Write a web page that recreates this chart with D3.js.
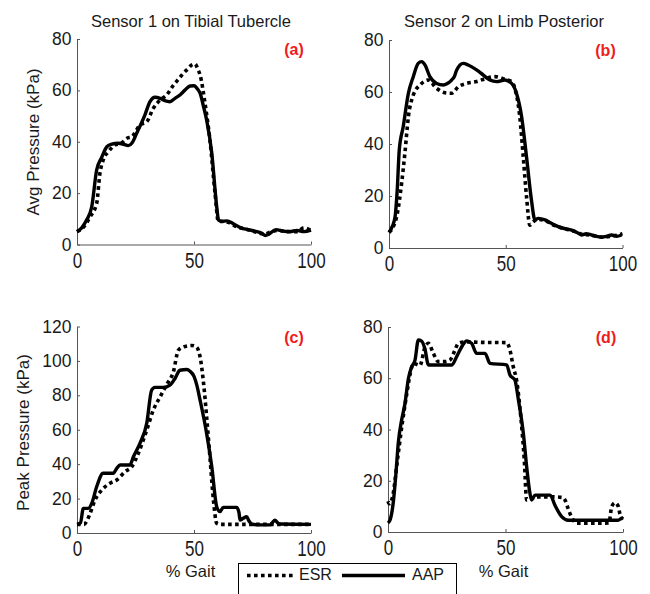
<!DOCTYPE html>
<html>
<head>
<meta charset="utf-8">
<script src="https://cdn.jsdelivr.net/npm/d3@7"></script>
<style>
  html, body { margin: 0; padding: 0; background: #fff; }
  svg { display: block; }
  text { font-family: "Liberation Sans", Arial, Helvetica, sans-serif; fill: #1a1a1a; }
</style>
</head>
<body>
<svg id="chart" width="650" height="594"></svg>
<script>
// ---------------- DATA ----------------
const titles = ["Sensor 1 on Tibial Tubercle", "Sensor 2 on Limb Posterior"];
const yLabels = ["Avg Pressure (kPa)", "Peak Pressure (kPa)"];
const xLabel = "% Gait";
const panelTags = ["(a)", "(b)", "(c)", "(d)"];
const seriesNames = ["ESR", "AAP"];
const xTicks = [0, 50, 100];
const yTicksAvg = [0, 20, 40, 60, 80];
const yTicksPeak = [0, 20, 40, 60, 80, 100, 120];

// Panel (a) Avg pressure, sensor 1
const aAapGait = [0, 2, 4.1, 6.3, 8.4, 10.6, 12.7, 14.5, 17.7, 20, 21.9, 23.5, 25.5, 29, 31.2, 33.3, 35.5, 37.5, 39.7, 42, 44, 46, 48.3, 50, 51.5, 52.6, 54, 55.4, 57.6, 59.7, 60.5, 62, 64, 67, 70, 73, 76, 79, 80.5, 82, 85, 88, 91, 94, 97, 100];
const aAap = [5, 6.5, 9.5, 14.7, 29, 34, 38, 39, 39.4, 39, 38.5, 39.5, 43.3, 50.4, 55.6, 57.3, 56.9, 56, 55.6, 57, 58.2, 60, 61.7, 61.8, 60.5, 58.9, 54, 48.5, 35.5, 14.7, 9.5, 9, 9.2, 8, 6.5, 5.8, 5.2, 4.4, 3.5, 4, 5.8, 5.2, 5, 5.5, 5, 5.6];
const aEsrGait = [0, 3, 5.6, 8.4, 9.8, 11.2, 13.4, 16.2, 19, 21.2, 23.5, 26.9, 29.8, 32.6, 35.5, 38.3, 41.2, 43.5, 45.4, 47.5, 49, 50.4, 51.8, 52.6, 54.7, 56.8, 59, 60.4, 62, 65, 68, 72, 76, 80, 83, 86, 90, 94, 97, 100];
const aEsr = [5, 7, 10.8, 16, 27.7, 32.9, 36.1, 38.7, 39.5, 41.3, 42, 46.5, 47.8, 53, 56.2, 58.2, 62, 64.5, 66.6, 68.5, 69.9, 70.3, 67.9, 66, 55, 40.7, 19.9, 8.9, 9, 8.5, 7, 6, 5, 4, 5, 5.5, 5, 5, 6.5, 5.5];

// Panel (b) Avg pressure, sensor 2
const bAapGait = [0, 1.5, 2.6, 3.5, 4.4, 6.1, 8.3, 10.4, 12.5, 14, 15.4, 17.5, 20.4, 23.2, 25, 26.8, 28, 29, 31.8, 33.9, 37.5, 40.4, 43.2, 46.1, 49.6, 52.5, 54.6, 56.8, 58.9, 61, 62.5, 63.9, 66.8, 69.5, 72.5, 75, 78.2, 80.5, 82.4, 84.5, 86.7, 89, 91, 93, 95.3, 97.5, 99.6];
const bAap = [6, 8.5, 12, 22, 37.7, 46.7, 59.5, 65.9, 71, 71.7, 70.4, 65.9, 63.3, 62.7, 63.3, 64.6, 66, 68.5, 71, 70.4, 68.5, 66.5, 64.6, 64, 64.6, 63.3, 59.5, 50.5, 35, 18.5, 10.8, 11.4, 10.8, 9.5, 8.2, 7.5, 6.9, 6, 5, 5.5, 5, 4.5, 4.1, 4.5, 5, 4.5, 5];
const bEsrGait = [0, 2, 3.5, 5.4, 6.8, 8.3, 10.4, 13.3, 16.8, 20.4, 24, 26.8, 29.7, 33.2, 37.5, 41.8, 45.4, 49.6, 52.5, 53.9, 56, 57.5, 58.9, 60.3, 61.7, 63.5, 67, 70, 73, 77, 80, 83, 86, 89, 92, 95, 98, 100];
const bEsr = [6, 8.5, 13, 24.9, 36.4, 50.5, 58.8, 62.7, 64.6, 61.4, 59.7, 59.5, 62, 63.3, 64, 65.3, 65.9, 64.9, 64, 61.4, 50.5, 35, 19.7, 8.8, 10, 11, 10.5, 9, 8, 7, 6.2, 5.2, 5, 4.5, 4.2, 4.5, 5, 5.5];

// Panel (c) Peak pressure, sensor 1
const cAapGait = [0, 1.5, 2.7, 4.8, 6.3, 8.4, 11.2, 15.5, 17, 18.4, 22.6, 24.1, 26.9, 29.8, 31.9, 33.3, 36.9, 39.7, 41.9, 44, 46.9, 48.3, 50, 51.2, 52.6, 55.4, 57.6, 59.7, 61.1, 62.5, 68.2, 69.2, 69.7, 71, 72.5, 73.5, 74.7, 78.2, 82.4, 83.5, 84.6, 85.7, 86.8, 100];
const cAap = [5, 6, 14.3, 14.3, 17.2, 26.9, 34.7, 34.7, 37.6, 39.5, 39.5, 44.3, 52.1, 63.7, 83, 84.6, 84.6, 85.9, 89.8, 94.6, 95, 94, 91, 85.9, 77.2, 57.9, 38.5, 15.3, 12.4, 14.9, 14.9, 12, 7.5, 8.5, 9.5, 7, 5.2, 4.7, 4.7, 6, 7.5, 6, 5.2, 5];
const cEsrGait = [0, 3, 4.2, 5.6, 7.7, 10.6, 14.1, 17, 20.5, 23.4, 26.2, 29.8, 32.6, 35.5, 38.3, 41.2, 43.3, 45.4, 49, 51.1, 52.6, 54.1, 55.4, 56.8, 58.3, 59.7, 61, 100];
const cEsr = [5, 5, 7, 11.4, 19.2, 25, 28.9, 30.8, 35.6, 38.5, 46.3, 59.8, 71.4, 79.1, 86.2, 93.7, 106.2, 108.1, 109, 108, 102.4, 86.9, 67.5, 44.3, 19.2, 5.6, 5, 5];

// Panel (d) Peak pressure, sensor 2
const dAapGait = [0, 1, 2.3, 3.3, 4.4, 5.8, 7.2, 8.7, 10.1, 11.5, 12.9, 14.3, 15.7, 17.2, 27.2, 29.2, 31.4, 33.5, 35.6, 37.7, 41.3, 43.4, 50.5, 51.9, 54, 55.5, 57.6, 59, 60.4, 61.1, 62.6, 69, 71, 73.9, 76.7, 97.9, 99.3, 100];
const dAap = [3.5, 5, 12, 22, 35, 43.7, 50, 60, 64.5, 67.1, 74.9, 74.5, 71.5, 65.2, 65.2, 68.4, 72.3, 74.6, 73.6, 69.7, 69.7, 65.8, 65.2, 61.3, 59.3, 51.5, 38.5, 25.5, 15.1, 12.5, 14.4, 14.4, 10.5, 6, 4.6, 4.6, 5.3, 5.5];
const dEsrGait = [0, 0.5, 2, 4, 6, 8, 9.5, 10.8, 13.6, 15.7, 17.2, 19.3, 21.4, 24.3, 26.4, 28.5, 29.9, 32.8, 40, 50.5, 51.9, 53.3, 54.7, 56.5, 58, 59, 61.1, 63.3, 70, 74, 75.3, 76.5, 78, 80.3, 90, 94, 95.2, 96.6, 98, 98.7, 100];
const dEsr = [12, 11, 14, 28, 42, 54, 62, 65.8, 65, 72, 73.6, 69.7, 66.5, 66.5, 67.1, 71, 73.6, 74.2, 74, 73.9, 71, 64.5, 59.3, 45, 28, 12.5, 13, 13.7, 13.7, 13.5, 12.5, 9.5, 6, 3.4, 3.4, 3.5, 9.9, 11.4, 10, 7, 5];

// ---------------- LAYOUT ----------------
const panels = [
  { tag: panelTags[0], xr: [77, 311], yr: [244.5, 39], yTicks: yTicksAvg,
    esr: [aEsrGait, aEsr], aap: [aAapGait, aAap] },
  { tag: panelTags[1], xr: [389, 622.5], yr: [248, 40], yTicks: yTicksAvg,
    esr: [bEsrGait, bEsr], aap: [bAapGait, bAap] },
  { tag: panelTags[2], xr: [77, 311], yr: [533, 326.5], yTicks: yTicksPeak,
    esr: [cEsrGait, cEsr], aap: [cAapGait, cAap] },
  { tag: panelTags[3], xr: [388, 623], yr: [532, 327], yTicks: yTicksPeak.slice(0, 5),
    esr: [dEsrGait, dEsr], aap: [dAapGait, dAap] }
];

const svg = d3.select("#chart");
svg.append("rect").attr("width", 650).attr("height", 594).attr("fill", "#fff");

const axisColor = "#555";
const DASH = "3.6,3.4";

panels.forEach((p, i) => {
  const x = d3.scaleLinear().domain([0, 100]).range(p.xr);
  const yMax = p.yTicks[p.yTicks.length - 1];
  const y = d3.scaleLinear().domain([0, yMax]).range(p.yr);

  // x axis
  const gx = svg.append("g")
    .attr("transform", `translate(0,${p.yr[0]})`)
    .call(d3.axisBottom(x).tickValues(xTicks).tickFormat(d3.format("d"))
      .tickSizeInner(-3).tickSizeOuter(0).tickPadding(6));
  gx.select(".domain").attr("stroke", axisColor).attr("stroke-width", 1);
  gx.selectAll(".tick line").attr("stroke", axisColor);
  gx.selectAll(".tick text")
    .attr("y", 6.7).attr("dy", "0.71em")
    .attr("transform", "scale(1,1.25)")
    .style("font-size", "17px").attr("fill", "#1a1a1a")
    .style("font-family", '"Liberation Sans", Arial, sans-serif');

  // y axis
  const gy = svg.append("g")
    .attr("transform", `translate(${p.xr[0]},0)`)
    .call(d3.axisLeft(y).tickValues(p.yTicks).tickFormat(d3.format("d"))
      .tickSizeInner(-3).tickSizeOuter(0).tickPadding(5.5));
  gy.select(".domain").attr("stroke", axisColor).attr("stroke-width", 1);
  gy.selectAll(".tick line").attr("stroke", axisColor);
  gy.selectAll(".tick text")
    .style("font-size", "17.5px").attr("fill", "#1a1a1a")
    .style("font-family", '"Liberation Sans", Arial, sans-serif');

  const line = d3.line()
    .x(d => x(d[0])).y(d => y(d[1]))
    .curve(d3.curveMonotoneX);
  const toPts = s => s[0].map((g, k) => [g, s[1][k]]);

  // ESR dotted
  svg.append("path")
    .attr("d", line(toPts(p.esr)))
    .attr("fill", "none").attr("stroke", "#000")
    .attr("stroke-width", 3.6).attr("stroke-dasharray", DASH);
  // AAP solid
  svg.append("path")
    .attr("d", line(toPts(p.aap)))
    .attr("fill", "none").attr("stroke", "#000")
    .attr("stroke-width", 3.4).attr("stroke-linejoin", "round");

  // panel tag
  svg.append("text")
    .attr("x", p.xr[1] - 17).attr("y", p.yr[1] + 16)
    .attr("text-anchor", "middle")
    .style("font-size", "16px").style("font-weight", "bold")
    .style("fill", "#ee1c1c")
    .text(p.tag);
});

// titles
svg.append("text").attr("x", 191).attr("y", 26.5).attr("text-anchor", "middle")
  .style("font-size", "16.5px").text(titles[0]);
svg.append("text").attr("x", 504).attr("y", 26.5).attr("text-anchor", "middle")
  .style("font-size", "16.5px").text(titles[1]);

// y labels
svg.append("text").attr("transform", "translate(39,142) rotate(-90)")
  .attr("text-anchor", "middle").style("font-size", "17px").text(yLabels[0]);
svg.append("text").attr("transform", "translate(29,432.5) rotate(-90)")
  .attr("text-anchor", "middle").style("font-size", "17px").text(yLabels[1]);

// x labels
svg.append("text").attr("x", 190.5).attr("y", 576.5).attr("text-anchor", "middle")
  .style("font-size", "16.5px").text(xLabel);
svg.append("text").attr("x", 503.5).attr("y", 576.5).attr("text-anchor", "middle")
  .style("font-size", "16.5px").text(xLabel);

// legend
const lg = svg.append("g");
lg.append("rect").attr("x", 238.5).attr("y", 563.5).attr("width", 218).attr("height", 40)
  .attr("fill", "#fff").attr("stroke", "#000").attr("stroke-width", 1);
lg.append("line").attr("x1", 247).attr("x2", 294).attr("y1", 575.5).attr("y2", 575.5)
  .attr("stroke", "#000").attr("stroke-width", 3.6).attr("stroke-dasharray", DASH);
lg.append("text").attr("x", 299).attr("y", 580).style("font-size", "16px").text(seriesNames[0]);
lg.append("line").attr("x1", 342).attr("x2", 405).attr("y1", 575.5).attr("y2", 575.5)
  .attr("stroke", "#000").attr("stroke-width", 3.4);
lg.append("text").attr("x", 412).attr("y", 580).style("font-size", "16px").text(seriesNames[1]);
</script>
</body>
</html>
